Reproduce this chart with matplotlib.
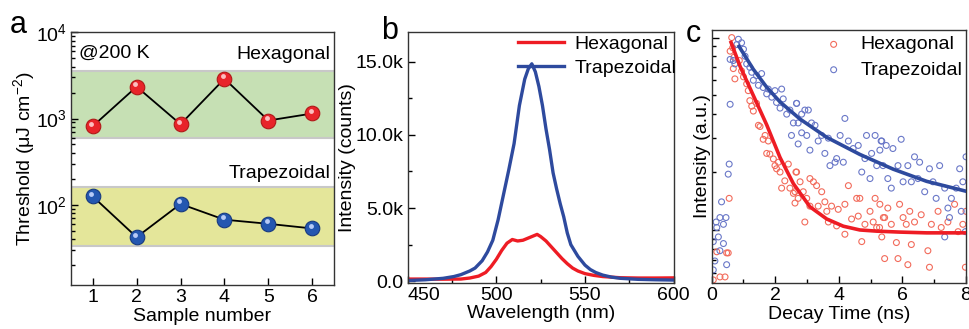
import matplotlib
matplotlib.use("Agg")
import matplotlib.pyplot as plt
import numpy as np
from matplotlib.ticker import LogLocator, NullFormatter, FixedLocator, MultipleLocator
from matplotlib.transforms import offset_copy

plt.rcParams['font.family'] = ['Liberation Sans', 'DejaVu Sans']
plt.rcParams['mathtext.fontset'] = 'custom'
plt.rcParams['mathtext.rm'] = 'Liberation Sans'
plt.rcParams['mathtext.it'] = 'Liberation Sans:italic'

# ---------------- Panel a data ----------------
samples = [1, 2, 3, 4, 5, 6]
hex_threshold = [813, 2340, 858, 2890, 948, 1143]
trap_threshold = [125, 42, 102, 67, 60, 53]
hex_band = (600, 3600)
trap_band = (33, 159)

# ---------------- Panel b data ----------------
wl_ticks = [450, 500, 550, 600]
wl_trap = [450, 460, 470, 476, 480, 485, 488, 492, 495, 498, 501, 504, 507, 510, 513, 516, 518, 520,
           522, 524, 526, 528, 530, 532, 534, 536, 538, 540, 542, 544, 546, 548, 550, 553, 556, 560,
           565, 570, 580, 590, 600]
pl_trap = [50, 100, 200, 320, 450, 700, 900, 1400, 2000, 2800, 4200, 5900, 7600, 9400, 12000, 13800,
           14500, 14850, 14300, 13300, 12000, 10400, 9000, 7400, 6300, 5300, 4400, 3300, 2500, 2100,
           1700, 1400, 1100, 800, 600, 420, 280, 200, 130, 100, 80]
wl_hex = [450, 460, 470, 480, 485, 490, 494, 497, 500, 503, 506, 509, 512, 515, 518, 521, 523, 525,
          528, 531, 534, 537, 540, 543, 546, 550, 555, 560, 570, 580, 590, 600]
pl_hex = [150, 150, 140, 150, 220, 350, 600, 1000, 1500, 2100, 2600, 2850, 2750, 2800, 2950, 3100,
          3200, 3050, 2750, 2350, 1950, 1550, 1200, 900, 700, 520, 400, 320, 240, 220, 220, 230]

# ---------------- Panel c data ----------------
t_hex = [0.63, 0.66, 0.58, 0.70, 0.68, 0.73, 0.87, 0.94, 1.0, 1.1, 1.15, 1.2, 1.26, 1.31, 1.41, 1.47,
         1.52, 1.62, 1.68, 1.78, 1.73, 1.83, 1.94, 1.99, 2.04, 2.15, 2.2, 2.1, 2.3, 2.41, 2.46, 2.57,
         2.62, 2.65, 2.72, 0.55, 0.52, 0.47, 0.16, 0.26, 0.42, 0.05,
         2.67, 2.62, 2.78, 2.88, 2.99, 3.09, 3.2, 2.93, 3.09, 3.3, 3.35, 3.46, 3.56, 3.67, 3.62, 3.77,
         3.93, 3.98, 4.19, 4.3, 4.19, 4.4, 4.56, 4.66, 4.61, 4.72, 4.82, 4.98, 5.08, 5.14, 5.19, 5.29,
         5.35, 5.4,
         5.28, 5.44, 5.54, 5.65, 5.81, 5.91, 6.02, 6.12, 6.23, 6.28, 6.38, 6.59, 6.8, 6.91, 7.12, 7.22,
         7.43, 7.64, 7.75, 7.9, 8.0, 5.44, 5.86, 6.17, 6.85, 7.98]
i_hex = [1.0, 0.886, 0.85, 0.79, 0.69, 0.61, 0.76, 0.67, 0.625, 0.575, 0.53, 0.47, 0.44, 0.415, 0.455,
         0.35, 0.345, 0.296, 0.31, 0.29, 0.25, 0.248, 0.234, 0.216, 0.208, 0.2, 0.165, 0.225, 0.18,
         0.22, 0.165, 0.155, 0.138, 0.2, 0.146, 0.146, 0.076, 0.076, 0.077, 0.057, 0.057, 0.055,
         0.2, 0.158, 0.178, 0.158, 0.146, 0.185, 0.178, 0.11, 0.133, 0.17, 0.133, 0.158, 0.14, 0.11,
         0.125, 0.133, 0.105, 0.128, 0.136, 0.17, 0.095, 0.114, 0.146, 0.146, 0.118, 0.087, 0.107,
         0.125, 0.11, 0.146, 0.103, 0.136, 0.092, 0.116,
         0.103, 0.116, 0.13, 0.107, 0.086, 0.136, 0.116, 0.107, 0.125, 0.084, 0.11, 0.12, 0.078, 0.107,
         0.125, 0.103, 0.11, 0.136, 0.098, 0.107, 0.125, 0.071, 0.071, 0.066, 0.064, 0.064]

t_trap = [0.84, 0.94, 0.79, 1.0, 0.58, 0.68, 0.73, 1.05, 1.1, 1.2, 1.26, 1.31, 1.41, 1.47, 1.57, 1.62,
          1.73, 1.78, 1.89, 1.99, 2.04, 2.15, 2.2, 2.25, 2.36, 2.46, 2.51, 2.57, 2.67, 2.72,
          0.58, 0.55, 0.52, 0.31, 0.45, 0.26, 0.14, 0.37, 0.16, 0.21, 0.37, 0.05, 0.26, 0.10, 0.47, 0.05,
          2.67, 2.72, 2.83, 2.93, 3.04, 2.83, 2.99, 3.09, 3.14, 3.25, 3.35, 3.46, 3.56, 3.67, 3.72, 3.88,
          3.93, 4.04, 4.19, 4.14, 4.3, 4.45, 4.61, 4.72, 4.82, 4.87, 4.98, 5.03, 5.14, 5.19, 5.29, 5.35,
          5.33, 5.49, 5.7, 5.96, 5.39, 5.54, 5.65, 5.86, 6.02, 6.17, 6.28, 6.38, 6.54, 6.49, 6.7, 6.85,
          6.96, 7.06, 7.17, 7.33, 7.43, 7.54, 7.69, 7.8, 7.9, 8.0, 7.48, 7.33, 7.85, 7.98]
i_trap = [0.98, 0.94, 0.92, 0.87, 0.77, 0.76, 0.73, 0.80, 0.73, 0.70, 0.66, 0.60, 0.635, 0.565, 0.65,
          0.55, 0.51, 0.54, 0.49, 0.53, 0.46, 0.43, 0.54, 0.48, 0.40, 0.42, 0.31, 0.36, 0.455, 0.28,
          0.45, 0.22, 0.195, 0.14, 0.116, 0.116, 0.11, 0.107, 0.103, 0.092, 0.085, 0.087, 0.078, 0.069,
          0.066, 0.062,
          0.455, 0.36, 0.40, 0.42, 0.42, 0.32, 0.31, 0.26, 0.36, 0.35, 0.29, 0.31, 0.25, 0.30, 0.216,
          0.225, 0.235, 0.31, 0.38, 0.225, 0.29, 0.265, 0.275, 0.2, 0.235, 0.31, 0.185, 0.25, 0.31,
          0.216, 0.26, 0.29,
          0.29, 0.275, 0.265, 0.296, 0.216, 0.185, 0.165, 0.216, 0.178, 0.216, 0.178, 0.24, 0.225, 0.185,
          0.158, 0.208, 0.178, 0.146, 0.216, 0.165, 0.13, 0.146, 0.165, 0.208, 0.178, 0.24, 0.116, 0.092,
          0.125, 0.098]

fit_t_hex = [0.61, 0.89, 1.31, 1.73, 2.15, 2.57, 3.09, 3.62, 4.14, 4.66, 5.19, 5.9, 6.76, 8.0]
fit_i_hex = [0.943, 0.711, 0.50, 0.352, 0.238, 0.174, 0.132, 0.114, 0.1046, 0.100, 0.0986, 0.0975,
             0.0966, 0.0966]
fit_t_trap = [0.86, 1.31, 1.73, 2.15, 2.78, 3.62, 4.66, 5.71, 6.76, 8.0]
fit_i_trap = [0.90, 0.684, 0.552, 0.463, 0.377, 0.303, 0.247, 0.207, 0.179, 0.159]

# ---------------- Figure ----------------
fig = plt.figure(figsize=(9.70, 3.29), dpi=100)
FS = 14

def style(ax):
    ax.tick_params(direction='in', which='both', labelsize=FS, top=False, right=False)
    ax.tick_params(which='major', length=5, width=1, pad=3)
    ax.tick_params(which='minor', length=3, width=1)
    for s in ax.spines.values():
        s.set_linewidth(1.0)
        s.set_color('#333333')

# Panel a
axa = fig.add_axes([0.0729, 0.1337, 0.2717, 0.7681])
axa.set_yscale('log')
axa.set_ylim(11.7, 1e4)
axa.set_xlim(0.5, 6.5)
axa.axhspan(*hex_band, color='#c6e0b4', zorder=0, lw=0)
axa.axhspan(*trap_band, color='#e4e69a', zorder=0, lw=0)
for v in list(hex_band) + list(trap_band):
    axa.axhline(v, color='#c8c8c8', lw=1.5, zorder=1)
axa.plot(samples, hex_threshold, color='black', lw=1.3, zorder=2)
axa.plot(samples, trap_threshold, color='black', lw=1.3, zorder=2)
axa.plot(samples, hex_threshold, 'o', ms=10.5, color='#e8242a', mec='#b01818', mew=0.8, zorder=3)
axa.plot(samples, trap_threshold, 'o', ms=10.5, color='#2457b0', mec='#173a80', mew=0.8, zorder=3)
hl = offset_copy(axa.transData, fig=fig, x=-1.2, y=1.8, units='points')
axa.plot(samples, hex_threshold, 'o', ms=3.5, color='#ffd0d0', mew=0, alpha=0.9, transform=hl, zorder=4)
axa.plot(samples, trap_threshold, 'o', ms=3.5, color='#c8d8ff', mew=0, alpha=0.9, transform=hl, zorder=4)
style(axa)
axa.yaxis.set_major_locator(FixedLocator([1e2, 1e3, 1e4]))
axa.yaxis.set_minor_locator(LogLocator(base=10, subs=np.arange(2, 10)))
axa.yaxis.set_minor_formatter(NullFormatter())
axa.set_xticks(samples)
axa.tick_params(axis='x', which='minor', bottom=False)
axa.set_xlabel('Sample number', fontsize=FS, labelpad=1)
axa.set_ylabel('Threshold (μJ cm$^{-2}$)', fontsize=FS, labelpad=-1)
axa.text(0.03, 0.95, '@200 K', transform=axa.transAxes, fontsize=FS, ha='left', va='top')
axa.text(0.985, 0.945, 'Hexagonal', transform=axa.transAxes, fontsize=FS, ha='right', va='top')
axa.text(0.985, 0.475, 'Trapezoidal', transform=axa.transAxes, fontsize=FS, ha='right', va='top')
fig.text(0.010, 0.925, 'a', fontsize=22, ha='left', va='center')

# Panel b
axb = fig.add_axes([0.4203, 0.1407, 0.2742, 0.7611])
axb.plot(wl_hex, pl_hex, color='#ee1c24', lw=2.4, label='Hexagonal')
axb.plot(wl_trap, pl_trap, color='#2e4a9e', lw=2.4, label='Trapezoidal')
axb.set_xlim(450, 600)
axb.set_ylim(-100, 17000)
style(axb)
axb.set_xticks(wl_ticks, labels=[str(w) for w in wl_ticks])
axb.get_xticklabels()[0].set_horizontalalignment('left')
axb.xaxis.set_minor_locator(MultipleLocator(25))
axb.set_yticks([0, 5000, 10000, 15000], labels=['0.0', '5.0k', '10.0k', '15.0k'])
axb.yaxis.set_minor_locator(MultipleLocator(2500))
axb.set_xlabel('Wavelength (nm)', fontsize=FS, labelpad=1)
axb.set_ylabel('Intensity (counts)', fontsize=FS, labelpad=0)
axb.legend(loc='upper right', bbox_to_anchor=(1.02, 1.0), frameon=False, fontsize=FS,
           handlelength=2.4, handletextpad=0.5, borderaxespad=0.05, labelspacing=0.35, borderpad=0.1)
fig.text(0.393, 0.905, 'b', fontsize=22, ha='left', va='center')

# Panel c
axc = fig.add_axes([0.7337, 0.1398, 0.2622, 0.769])
axc.set_yscale('log')
axc.scatter(t_hex, i_hex, s=18, facecolors='none', edgecolors='#f26b5b', linewidths=0.8,
            label='Hexagonal', zorder=2)
axc.scatter(t_trap, i_trap, s=18, facecolors='none', edgecolors='#6a78c8', linewidths=0.8,
            label='Trapezoidal', zorder=2)
axc.plot(fit_t_hex, fit_i_hex, color='#ee1c24', lw=2.6, zorder=3)
axc.plot(fit_t_trap, fit_i_trap, color='#2e4a9e', lw=2.6, zorder=3)
axc.set_xlim(0, 8)
axc.set_ylim(0.053, 1.095)
style(axc)
axc.set_xticks([0, 2, 4, 6, 8])
axc.xaxis.set_minor_locator(MultipleLocator(1))
axc.yaxis.set_major_locator(FixedLocator([0.1, 1.0]))
axc.yaxis.set_minor_locator(LogLocator(base=10, subs=np.arange(2, 10)))
axc.yaxis.set_major_formatter(NullFormatter())
axc.yaxis.set_minor_formatter(NullFormatter())
axc.set_xlabel('Decay Time (ns)', fontsize=FS, labelpad=1)
axc.set_ylabel('Intensity (a.u.)', fontsize=FS, labelpad=-3)
axc.legend(loc='upper right', bbox_to_anchor=(1.01, 1.0), frameon=False, fontsize=FS,
           handlelength=1.0, handletextpad=0.9, markerscale=1.0,
           borderaxespad=0.1, labelspacing=0.4, borderpad=0.2)
fig.text(0.707, 0.897, 'c', fontsize=22, ha='left', va='center')

fig.savefig('out.png', dpi=100)
